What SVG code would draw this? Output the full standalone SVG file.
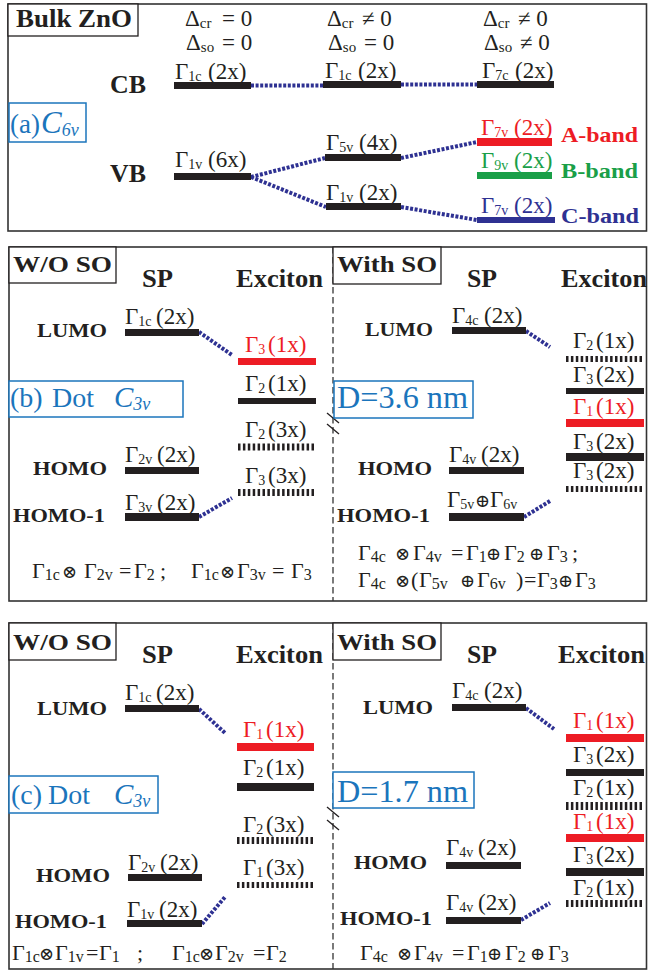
<svg xmlns="http://www.w3.org/2000/svg" width="648" height="971" viewBox="0 0 648 971">
<style>
text{font-family:"Liberation Serif","Times New Roman",serif;fill:#231f20}
.r{font-size:23px}
.s{font-size:14px}
.f{font-size:22px}
.fs{font-size:16px}
.op{font-family:"DejaVu Serif",serif;font-size:18px}
.b{font-weight:bold}
.red{fill:#ed1c24}
.grn{fill:#1a9f48}
.nav{fill:#2e3192}
.blu{fill:#1b75bc}
.bar{fill:#231f20}
.hb{stroke:#231f20;stroke-width:7;stroke-dasharray:2.5 2.4;fill:none}
.c{stroke:#2e3192;stroke-width:4;stroke-dasharray:3 1.6;fill:none}
.fr{fill:none;stroke:#333;stroke-width:1.6}
.bx{fill:#fff;stroke:#231f20;stroke-width:1.3}
.bb{fill:#fff;stroke:#1b75bc;stroke-width:1.5}
.dv{stroke:#333;stroke-width:1.3;stroke-dasharray:6.5 3.5;fill:none}
.bk{stroke:#231f20;stroke-width:1.3;fill:none}
.d{font-size:23px}
.ds{font-size:15px}
</style>

<g id="frames">
<rect class="fr" x="8" y="4" width="638.5" height="227"/>
<rect class="fr" x="9" y="247" width="637.5" height="354"/>
<rect class="fr" x="9" y="623" width="637.5" height="346"/>
<line class="dv" x1="333" y1="247" x2="333" y2="601"/>
<line class="dv" x1="333" y1="623" x2="333" y2="969"/>
<line class="bk" x1="327" y1="413" x2="339" y2="423"/>
<line class="bk" x1="327" y1="424" x2="339" y2="434"/>
<line class="bk" x1="327" y1="807" x2="339" y2="817"/>
<line class="bk" x1="327" y1="820" x2="339" y2="830"/>
</g>

<g id="connectors">
<line class="c" x1="251" y1="85.5" x2="323" y2="85.5"/>
<line class="c" x1="401" y1="84.5" x2="477" y2="84.5"/>
<line class="c" x1="251" y1="177" x2="325" y2="158"/>
<line class="c" x1="251" y1="177" x2="326" y2="207"/>
<line class="c" x1="401" y1="158" x2="477" y2="142"/>
<line class="c" x1="401" y1="207" x2="477" y2="220"/>
<line class="c" x1="199" y1="332" x2="232" y2="355"/>
<line class="c" x1="199" y1="517" x2="232" y2="498"/>
<line class="c" x1="526" y1="331" x2="550" y2="347"/>
<line class="c" x1="524" y1="517" x2="550" y2="501"/>
<line class="c" x1="199" y1="709" x2="225" y2="733"/>
<line class="c" x1="202" y1="924" x2="225" y2="897"/>
<line class="c" x1="526" y1="708" x2="554" y2="729"/>
<line class="c" x1="521" y1="920" x2="550" y2="903"/>
</g>

<g id="a-title">
<rect class="bx" x="8" y="4" width="130" height="32"/>
<text class="b" x="16" y="27" font-size="25" textLength="116" lengthAdjust="spacingAndGlyphs">Bulk ZnO</text>
</g>
<g id="a-delta">
<text class="d" y="26"><tspan x="185">Δ</tspan><tspan class="ds" dy="2">cr</tspan><tspan x="222" dy="-2">= 0</tspan></text>
<text class="d" y="50"><tspan x="186">Δ</tspan><tspan class="ds" dy="2">so</tspan><tspan x="222" dy="-2">= 0</tspan></text>
<text class="d" y="26"><tspan x="327">Δ</tspan><tspan class="ds" dy="2">cr</tspan><tspan x="362" dy="-2">≠ 0</tspan></text>
<text class="d" y="50"><tspan x="328">Δ</tspan><tspan class="ds" dy="2">so</tspan><tspan x="364" dy="-2">= 0</tspan></text>
<text class="d" y="26"><tspan x="483">Δ</tspan><tspan class="ds" dy="2">cr</tspan><tspan x="518" dy="-2">≠ 0</tspan></text>
<text class="d" y="50"><tspan x="484">Δ</tspan><tspan class="ds" dy="2">so</tspan><tspan x="520" dy="-2">≠ 0</tspan></text>
</g>
<g id="a-label">
<rect class="bb" x="9" y="103" width="77" height="39"/>
<text class="blu" y="133"><tspan x="10" font-size="27">(a)</tspan><tspan x="41" font-size="31" font-style="italic">C</tspan><tspan font-size="18" font-style="italic" dy="3">6v</tspan></text>
</g>
<text class="b" x="110" y="93" font-size="25" textLength="36" lengthAdjust="spacingAndGlyphs">CB</text>
<text class="b" x="110" y="182" font-size="25" textLength="36" lengthAdjust="spacingAndGlyphs">VB</text>
<g id="a-cb1"><rect class="bar" x="174" y="82" width="77" height="7"/><text class="r" x="175" y="79">Γ<tspan class="s" dy="2">1c</tspan><tspan x="208" dy="-2">(2x)</tspan></text></g>
<g id="a-cb2"><rect class="bar" x="323" y="81" width="78" height="7"/><text class="r" x="325" y="78">Γ<tspan class="s" dy="2">1c</tspan><tspan x="358" dy="-2">(2x)</tspan></text></g>
<g id="a-cb3"><rect class="bar" x="477" y="81" width="77" height="7"/><text class="r" x="482" y="78">Γ<tspan class="s" dy="2">7c</tspan><tspan x="515" dy="-2">(2x)</tspan></text></g>
<g id="a-vb1"><rect class="bar" x="174" y="173" width="77" height="7"/><text class="r" x="175" y="167">Γ<tspan class="s" dy="2">1v</tspan><tspan x="208" dy="-2">(6x)</tspan></text></g>
<g id="a-vb2"><rect class="bar" x="325" y="154" width="76" height="7"/><text class="r" x="326" y="150">Γ<tspan class="s" dy="2">5v</tspan><tspan x="359" dy="-2">(4x)</tspan></text></g>
<g id="a-vb3"><rect class="bar" x="326" y="203" width="75" height="7"/><text class="r" x="326" y="200">Γ<tspan class="s" dy="2">1v</tspan><tspan x="359" dy="-2">(2x)</tspan></text></g>
<g id="a-A"><rect x="477" y="138" width="75" height="8" fill="#ed1c24"/><text class="r red" x="481" y="135">Γ<tspan class="s" dy="2">7v</tspan><tspan x="514" dy="-2">(2x)</tspan></text>
<text class="b red" x="561" y="142" font-size="21" textLength="77" lengthAdjust="spacingAndGlyphs">A-band</text></g>
<g id="a-B"><rect x="477" y="172" width="75" height="7" fill="#1a9f48"/><text class="r grn" x="481" y="168">Γ<tspan class="s" dy="2">9v</tspan><tspan x="514" dy="-2">(2x)</tspan></text>
<text class="b grn" x="561" y="178" font-size="21" textLength="77" lengthAdjust="spacingAndGlyphs">B-band</text></g>
<g id="a-C"><rect x="477" y="217" width="78" height="6" fill="#2e3192"/><text class="r nav" x="481" y="213">Γ<tspan class="s" dy="2">7v</tspan><tspan x="514" dy="-2">(2x)</tspan></text>
<text class="b nav" x="561" y="223" font-size="21" textLength="78" lengthAdjust="spacingAndGlyphs">C-band</text></g>

<g id="b-title"><rect class="bx" x="9" y="247" width="107" height="36"/><text class="b" x="13" y="272" font-size="24" textLength="99" lengthAdjust="spacingAndGlyphs">W/O SO</text></g>
<text class="b" x="142" y="287" font-size="25" textLength="31" lengthAdjust="spacingAndGlyphs">SP</text>
<text class="b" x="236" y="287" font-size="25" textLength="87" lengthAdjust="spacingAndGlyphs">Exciton</text>
<text class="b" x="37" y="337" font-size="19" textLength="70" lengthAdjust="spacingAndGlyphs">LUMO</text>
<text class="b" x="33" y="475" font-size="19" textLength="74" lengthAdjust="spacingAndGlyphs">HOMO</text>
<text class="b" x="13" y="522" font-size="19" textLength="92" lengthAdjust="spacingAndGlyphs">HOMO-1</text>
<g id="b-lumo"><rect class="bar" x="125" y="329" width="74" height="7"/><text class="r" x="125" y="324">Γ<tspan class="s" dy="2">1c</tspan><tspan x="156" dy="-2">(2x)</tspan></text></g>
<g id="b-homo"><rect class="bar" x="125" y="467" width="74" height="7"/><text class="r" x="125" y="462">Γ<tspan class="s" dy="2">2v</tspan><tspan x="157" dy="-2">(2x)</tspan></text></g>
<g id="b-homo1"><rect class="bar" x="125" y="513" width="74" height="8"/><text class="r" x="125" y="510">Γ<tspan class="s" dy="2">3v</tspan><tspan x="157" dy="-2">(2x)</tspan></text></g>
<g id="b-x1"><rect x="238" y="358" width="78" height="7" fill="#ed1c24"/><text class="r red" x="245" y="352">Γ<tspan class="s" dy="2">3</tspan><tspan x="268" dy="-2">(1x)</tspan></text></g>
<g id="b-x2"><rect class="bar" x="238" y="398" width="78" height="6"/><text class="r" x="245" y="391">Γ<tspan class="s" dy="2">2</tspan><tspan x="268" dy="-2">(1x)</tspan></text></g>
<g id="b-x3"><line class="hb" x1="238" y1="447" x2="316" y2="447"/><text class="r" x="245" y="437">Γ<tspan class="s" dy="2">2</tspan><tspan x="268" dy="-2">(3x)</tspan></text></g>
<g id="b-x4"><line class="hb" x1="238" y1="492.5" x2="316" y2="492.5"/><text class="r" x="245" y="483">Γ<tspan class="s" dy="2">3</tspan><tspan x="268" dy="-2">(3x)</tspan></text></g>
<g id="b-label"><rect class="bb" x="9" y="381" width="174" height="36"/>
<text class="blu" y="407" font-size="28"><tspan x="10">(b)</tspan><tspan x="52">Dot</tspan><tspan x="114" font-style="italic" font-size="29">C</tspan><tspan font-style="italic" font-size="18" dy="3">3v</tspan></text></g>
<text class="f" y="578"><tspan x="32">Γ</tspan><tspan class="fs" dy="2">1c</tspan><tspan class="op" x="62" dy="-2">⊗</tspan><tspan x="84">Γ</tspan><tspan class="fs" dy="2">2v</tspan><tspan x="119" dy="-2">=</tspan><tspan x="134">Γ</tspan><tspan class="fs" dy="2">2</tspan><tspan x="160" dy="-2">;</tspan><tspan x="191">Γ</tspan><tspan class="fs" dy="2">1c</tspan><tspan class="op" x="220" dy="-2">⊗</tspan><tspan x="237">Γ</tspan><tspan class="fs" dy="2">3v</tspan><tspan x="272" dy="-2">=</tspan><tspan x="291">Γ</tspan><tspan class="fs" dy="2">3</tspan></text>

<g id="b-title2"><rect class="bx" x="333" y="247" width="108" height="37"/><text class="b" x="337" y="272" font-size="24" textLength="100" lengthAdjust="spacingAndGlyphs">With SO</text></g>
<text class="b" x="467" y="287" font-size="25" textLength="30" lengthAdjust="spacingAndGlyphs">SP</text>
<text class="b" x="561" y="287" font-size="25" textLength="86" lengthAdjust="spacingAndGlyphs">Exciton</text>
<text class="b" x="365" y="336" font-size="19" textLength="68" lengthAdjust="spacingAndGlyphs">LUMO</text>
<text class="b" x="358" y="475" font-size="19" textLength="74" lengthAdjust="spacingAndGlyphs">HOMO</text>
<text class="b" x="337" y="522" font-size="19" textLength="93" lengthAdjust="spacingAndGlyphs">HOMO-1</text>
<g id="b2-lumo"><rect class="bar" x="452" y="327" width="74" height="7"/><text class="r" x="452" y="323">Γ<tspan class="s" dy="2">4c</tspan><tspan x="484" dy="-2">(2x)</tspan></text></g>
<g id="b2-homo"><rect class="bar" x="449" y="467" width="75" height="7"/><text class="r" x="449" y="462">Γ<tspan class="s" dy="2">4v</tspan><tspan x="481" dy="-2">(2x)</tspan></text></g>
<g id="b2-homo1"><rect class="bar" x="449" y="513" width="75" height="8"/><text class="r" y="507"><tspan x="447">Γ</tspan><tspan class="s" dy="2">5v</tspan><tspan class="op" x="475" dy="-2">⊕</tspan><tspan x="490">Γ</tspan><tspan class="s" dy="2">6v</tspan></text></g>
<g id="b2-x1"><line class="hb" x1="566" y1="359" x2="644" y2="359" style="stroke-width:6"/><text class="r" x="573" y="348">Γ<tspan class="s" dy="2">2</tspan><tspan x="596" dy="-2">(1x)</tspan></text></g>
<g id="b2-x2"><rect class="bar" x="566" y="388" width="78" height="6"/><text class="r" x="573" y="382">Γ<tspan class="s" dy="2">3</tspan><tspan x="596" dy="-2">(2x)</tspan></text></g>
<g id="b2-x3"><rect x="566" y="419" width="78" height="8" fill="#ed1c24"/><text class="r red" x="573" y="414">Γ<tspan class="s" dy="2">1</tspan><tspan x="596" dy="-2">(1x)</tspan></text></g>
<g id="b2-x4"><rect class="bar" x="566" y="453" width="78" height="8"/><text class="r" x="573" y="449">Γ<tspan class="s" dy="2">3</tspan><tspan x="596" dy="-2">(2x)</tspan></text></g>
<g id="b2-x5"><line class="hb" x1="566" y1="489" x2="644" y2="489" style="stroke-width:6"/><text class="r" x="573" y="478">Γ<tspan class="s" dy="2">3</tspan><tspan x="596" dy="-2">(2x)</tspan></text></g>
<g id="b2-label"><rect class="bb" x="334" y="381" width="139" height="37"/><text class="blu" x="337" y="408" font-size="31" textLength="131" lengthAdjust="spacingAndGlyphs">D=3.6 nm</text></g>
<text class="f" y="560"><tspan x="358">Γ</tspan><tspan class="fs" dy="2">4c</tspan><tspan class="op" x="395" dy="-2">⊗</tspan><tspan x="413">Γ</tspan><tspan class="fs" dy="2">4v</tspan><tspan x="451" dy="-2">=</tspan><tspan x="466">Γ</tspan><tspan class="fs" dy="2">1</tspan><tspan class="op" x="486" dy="-2">⊕</tspan><tspan x="504">Γ</tspan><tspan class="fs" dy="2">2</tspan><tspan class="op" x="529" dy="-2">⊕</tspan><tspan x="547">Γ</tspan><tspan class="fs" dy="2">3</tspan><tspan x="572" dy="-2">;</tspan></text>
<text class="f" y="587"><tspan x="358">Γ</tspan><tspan class="fs" dy="2">4c</tspan><tspan class="op" x="395" dy="-2">⊗</tspan><tspan x="411">(</tspan><tspan x="419">Γ</tspan><tspan class="fs" dy="2">5v</tspan><tspan class="op" x="460" dy="-2">⊕</tspan><tspan x="477">Γ</tspan><tspan class="fs" dy="2">6v</tspan><tspan x="516" dy="-2">)</tspan><tspan x="524">=</tspan><tspan x="537">Γ</tspan><tspan class="fs" dy="2">3</tspan><tspan class="op" x="558" dy="-2">⊕</tspan><tspan x="575">Γ</tspan><tspan class="fs" dy="2">3</tspan></text>

<g id="c-title"><rect class="bx" x="9" y="623" width="107" height="37"/><text class="b" x="13" y="650" font-size="24" textLength="99" lengthAdjust="spacingAndGlyphs">W/O SO</text></g>
<text class="b" x="142" y="663" font-size="25" textLength="31" lengthAdjust="spacingAndGlyphs">SP</text>
<text class="b" x="236" y="663" font-size="25" textLength="87" lengthAdjust="spacingAndGlyphs">Exciton</text>
<text class="b" x="37" y="715" font-size="19" textLength="70" lengthAdjust="spacingAndGlyphs">LUMO</text>
<text class="b" x="36" y="882" font-size="19" textLength="74" lengthAdjust="spacingAndGlyphs">HOMO</text>
<text class="b" x="15" y="928" font-size="19" textLength="92" lengthAdjust="spacingAndGlyphs">HOMO-1</text>
<g id="c-lumo"><rect class="bar" x="125" y="705" width="74" height="7"/><text class="r" x="125" y="700">Γ<tspan class="s" dy="2">1c</tspan><tspan x="156" dy="-2">(2x)</tspan></text></g>
<g id="c-homo"><rect class="bar" x="128" y="874" width="74" height="7"/><text class="r" x="128" y="870">Γ<tspan class="s" dy="2">2v</tspan><tspan x="160" dy="-2">(2x)</tspan></text></g>
<g id="c-homo1"><rect class="bar" x="127" y="920" width="75" height="7"/><text class="r" x="127" y="917">Γ<tspan class="s" dy="2">1v</tspan><tspan x="159" dy="-2">(2x)</tspan></text></g>
<g id="c-x1"><rect x="237" y="743" width="77" height="8" fill="#ed1c24"/><text class="r red" x="243" y="737">Γ<tspan class="s" dy="2">1</tspan><tspan x="266" dy="-2">(1x)</tspan></text></g>
<g id="c-x2"><rect class="bar" x="237" y="783" width="77" height="8"/><text class="r" x="243" y="775">Γ<tspan class="s" dy="2">2</tspan><tspan x="266" dy="-2">(1x)</tspan></text></g>
<g id="c-x3"><line class="hb" x1="237" y1="840.5" x2="314" y2="840.5"/><text class="r" x="243" y="832">Γ<tspan class="s" dy="2">2</tspan><tspan x="266" dy="-2">(3x)</tspan></text></g>
<g id="c-x4"><line class="hb" x1="237" y1="885" x2="314" y2="885" style="stroke-width:6"/><text class="r" x="243" y="875">Γ<tspan class="s" dy="2">1</tspan><tspan x="266" dy="-2">(3x)</tspan></text></g>
<g id="c-label"><rect class="bb" x="9" y="776" width="149" height="37"/>
<text class="blu" y="804" font-size="28"><tspan x="11">(c)</tspan><tspan x="48">Dot</tspan><tspan x="114" font-style="italic" font-size="29">C</tspan><tspan font-style="italic" font-size="18" dy="3">3v</tspan></text></g>
<text class="f" y="960"><tspan x="12">Γ</tspan><tspan class="fs" dy="2">1c</tspan><tspan class="op" x="39" dy="-2">⊗</tspan><tspan x="55">Γ</tspan><tspan class="fs" dy="2">1v</tspan><tspan x="86" dy="-2">=</tspan><tspan x="99">Γ</tspan><tspan class="fs" dy="2">1</tspan><tspan x="137" dy="-2">;</tspan><tspan x="172">Γ</tspan><tspan class="fs" dy="2">1c</tspan><tspan class="op" x="199" dy="-2">⊗</tspan><tspan x="215">Γ</tspan><tspan class="fs" dy="2">2v</tspan><tspan x="253" dy="-2">=</tspan><tspan x="266">Γ</tspan><tspan class="fs" dy="2">2</tspan></text>

<g id="c-title2"><rect class="bx" x="333" y="623" width="108" height="37"/><text class="b" x="337" y="650" font-size="24" textLength="100" lengthAdjust="spacingAndGlyphs">With SO</text></g>
<text class="b" x="467" y="663" font-size="25" textLength="30" lengthAdjust="spacingAndGlyphs">SP</text>
<text class="b" x="558" y="663" font-size="25" textLength="87" lengthAdjust="spacingAndGlyphs">Exciton</text>
<text class="b" x="363" y="714" font-size="19" textLength="70" lengthAdjust="spacingAndGlyphs">LUMO</text>
<text class="b" x="354" y="869" font-size="19" textLength="73" lengthAdjust="spacingAndGlyphs">HOMO</text>
<text class="b" x="340" y="925" font-size="19" textLength="92" lengthAdjust="spacingAndGlyphs">HOMO-1</text>
<g id="c2-lumo"><rect class="bar" x="452" y="704" width="74" height="7"/><text class="r" x="452" y="698">Γ<tspan class="s" dy="2">4c</tspan><tspan x="484" dy="-2">(2x)</tspan></text></g>
<g id="c2-homo"><rect class="bar" x="446" y="862" width="75" height="7"/><text class="r" x="446" y="855">Γ<tspan class="s" dy="2">4v</tspan><tspan x="478" dy="-2">(2x)</tspan></text></g>
<g id="c2-homo1"><rect class="bar" x="446" y="917" width="75" height="7"/><text class="r" x="446" y="910">Γ<tspan class="s" dy="2">4v</tspan><tspan x="478" dy="-2">(2x)</tspan></text></g>
<g id="c2-x1"><rect x="566" y="734" width="78" height="8" fill="#ed1c24"/><text class="r red" x="573" y="728">Γ<tspan class="s" dy="2">1</tspan><tspan x="596" dy="-2">(1x)</tspan></text></g>
<g id="c2-x2"><rect class="bar" x="566" y="769" width="78" height="7"/><text class="r" x="573" y="762">Γ<tspan class="s" dy="2">3</tspan><tspan x="596" dy="-2">(2x)</tspan></text></g>
<g id="c2-x3"><line class="hb" x1="566" y1="806" x2="644" y2="806" style="stroke-width:8"/><text class="r" x="573" y="795">Γ<tspan class="s" dy="2">2</tspan><tspan x="596" dy="-2">(1x)</tspan></text></g>
<g id="c2-x4"><rect x="566" y="834" width="78" height="8" fill="#ed1c24"/><text class="r red" x="573" y="829">Γ<tspan class="s" dy="2">1</tspan><tspan x="596" dy="-2">(1x)</tspan></text></g>
<g id="c2-x5"><rect class="bar" x="566" y="868" width="78" height="8"/><text class="r" x="573" y="862">Γ<tspan class="s" dy="2">3</tspan><tspan x="596" dy="-2">(2x)</tspan></text></g>
<g id="c2-x6"><line class="hb" x1="566" y1="903.5" x2="644" y2="903.5"/><text class="r" x="573" y="895">Γ<tspan class="s" dy="2">2</tspan><tspan x="596" dy="-2">(1x)</tspan></text></g>
<g id="c2-label"><rect class="bb" x="333" y="772" width="141" height="36"/><text class="blu" x="337" y="802" font-size="31" textLength="131" lengthAdjust="spacingAndGlyphs">D=1.7 nm</text></g>
<text class="f" y="960"><tspan x="360">Γ</tspan><tspan class="fs" dy="2">4c</tspan><tspan class="op" x="397" dy="-2">⊗</tspan><tspan x="414">Γ</tspan><tspan class="fs" dy="2">4v</tspan><tspan x="452" dy="-2">=</tspan><tspan x="467">Γ</tspan><tspan class="fs" dy="2">1</tspan><tspan class="op" x="487" dy="-2">⊕</tspan><tspan x="505">Γ</tspan><tspan class="fs" dy="2">2</tspan><tspan class="op" x="530" dy="-2">⊕</tspan><tspan x="548">Γ</tspan><tspan class="fs" dy="2">3</tspan></text>
</svg>
